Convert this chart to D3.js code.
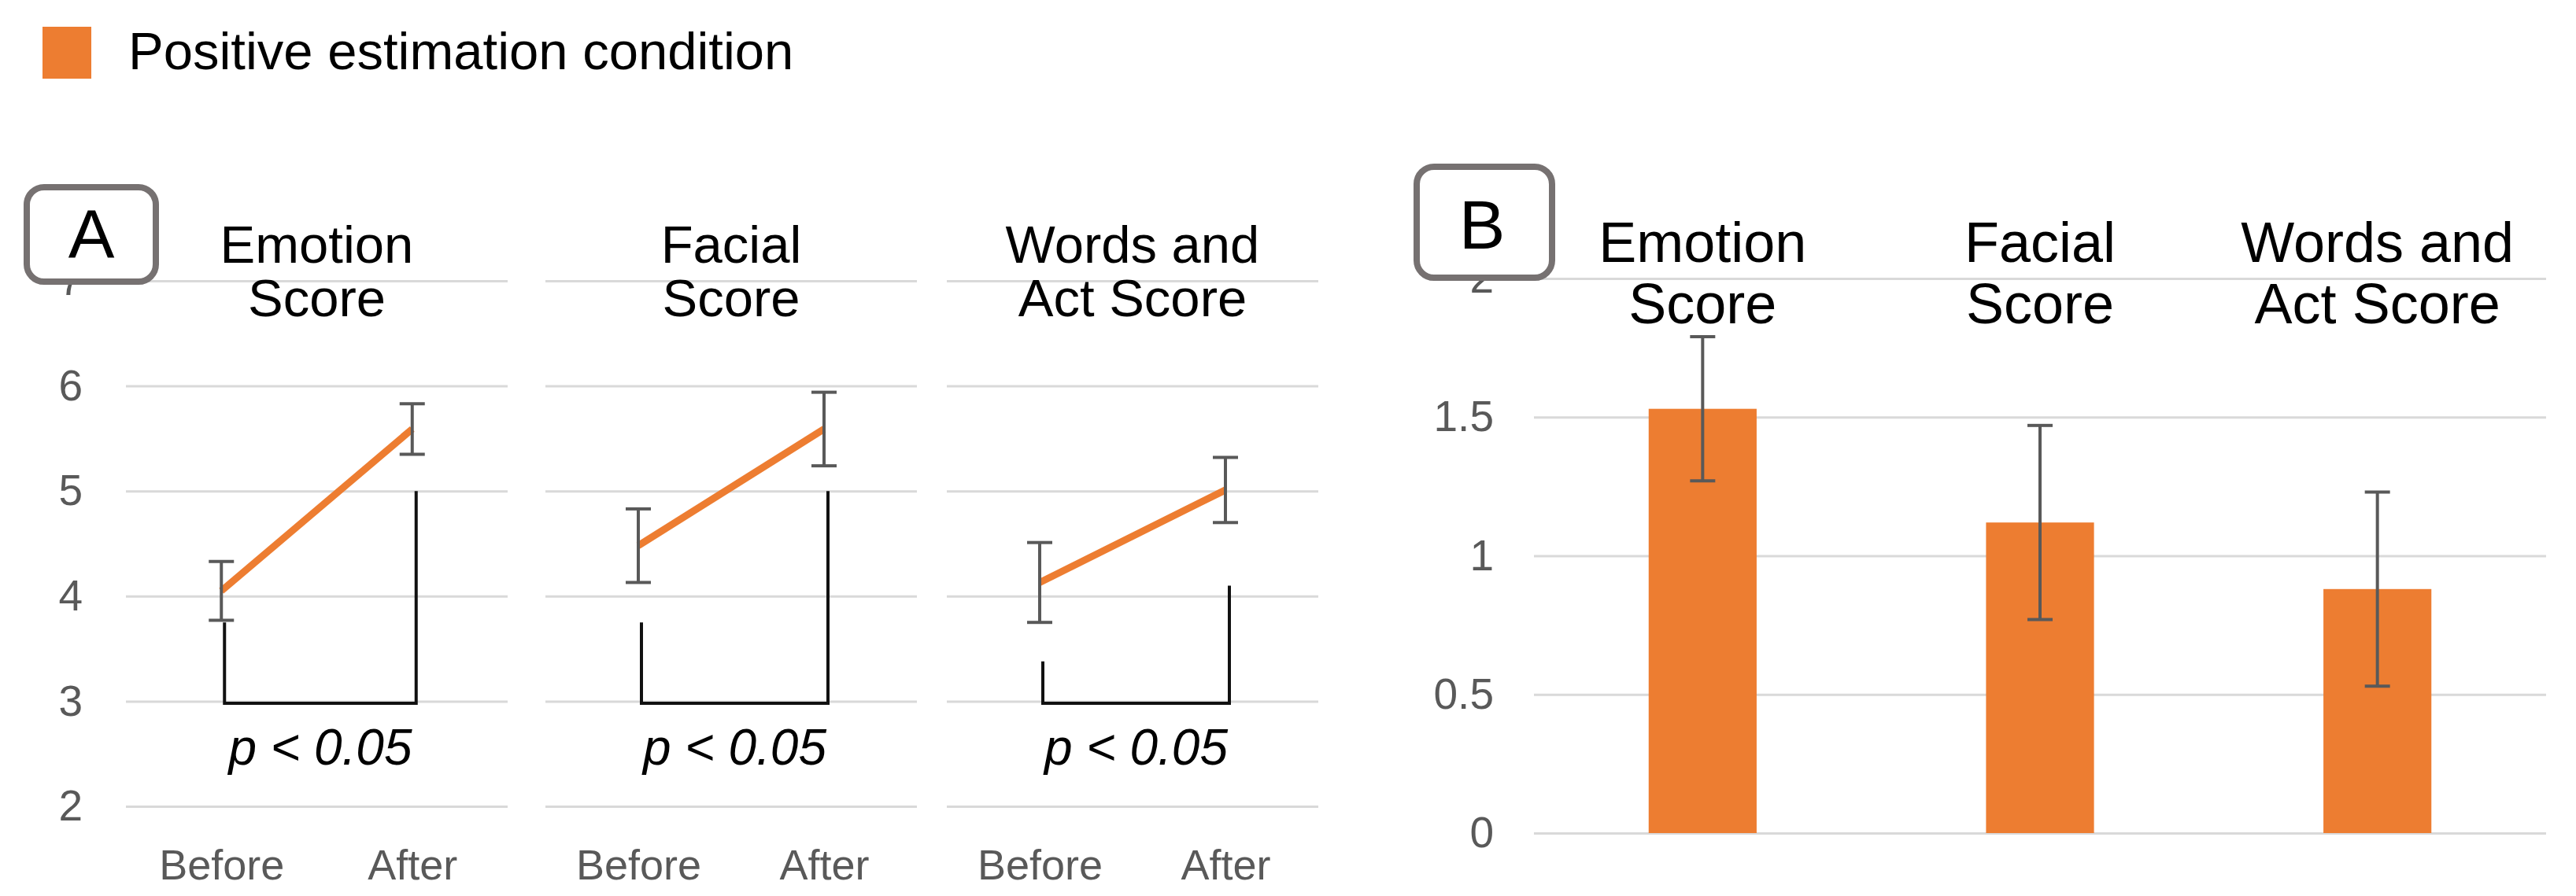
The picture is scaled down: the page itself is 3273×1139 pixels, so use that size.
<!DOCTYPE html>
<html>
<head>
<meta charset="utf-8">
<script src="https://cdnjs.cloudflare.com/ajax/libs/d3/7.8.5/d3.min.js"></script>
<style>
  body { margin: 0; background: #fff; }
  svg { display: block; font-family: "Liberation Sans", Arial, sans-serif; }
  .grid line { stroke: #d9d9d9; stroke-width: 3; }
  .grid .domain { display: none; }
  .grid text { fill: #595959; }
  .cat .domain, .cat line { display: none; }
  .cat text { fill: #595959; }
</style>
</head>
<body>
<script>
// panel A: mean scores before / after
var conditions = ["Before", "After"];
var scoreTitles = [["Emotion", "Score"], ["Facial", "Score"], ["Words and", "Act Score"]];
var beforeMeans = [4.05, 4.48, 4.13];
var beforeErrors = [0.28, 0.35, 0.38];
var afterMeans = [5.59, 5.59, 5.01];
var afterErrors = [0.24, 0.35, 0.31];
var bracketLeftTop = [3.75, 3.75, 3.38];
var bracketRightTop = [5.0, 5.0, 4.1];
var bracketBottom = 2.98;
var pText = "p < 0.05";
var scoreTicks = [2, 3, 4, 5, 6, 7];

// panel B: change in score
var changeMeans = [1.53, 1.12, 0.88];
var changeErrors = [0.26, 0.35, 0.35];
var changeTicks = [0, 0.5, 1, 1.5, 2];

var legendLabel = "Positive estimation condition";

var width = 3273;
var height = 1139;
var orange = "#ed7d31";
var errColor = "#595959";
var boxColor = "#767171";
var capHalf = 16;

var svg = d3
  .select("body")
  .append("svg")
  .attr("width", width)
  .attr("height", height);

// legend
svg
  .append("rect")
  .attr("x", 54)
  .attr("y", 34)
  .attr("width", 62)
  .attr("height", 66)
  .attr("fill", orange);
svg
  .append("text")
  .attr("x", 163)
  .attr("y", 88)
  .attr("font-size", 67)
  .text(legendLabel);

// ---------- panel A ----------
var yA = d3.scaleLinear().domain([2, 7]).range([1025, 357]);
var plotRanges = [[160, 645], [693, 1165], [1203, 1675]];

scoreTitles.forEach(function(title, i) {
  var x0 = plotRanges[i][0];
  var x1 = plotRanges[i][1];
  var x = d3.scalePoint().domain(conditions).range([x0, x1]).padding(0.5);

  var grid = svg
    .append("g")
    .attr("class", "grid")
    .attr("transform", "translate(" + x0 + ",0)")
    .call(
      d3
        .axisLeft(yA)
        .tickValues(scoreTicks)
        .tickSize(-(x1 - x0))
        .tickPadding(55)
        .tickFormat(i === 0 ? d3.format("d") : function() { return ""; })
    );
  grid.attr("font-size", 55).attr("font-family", null);

  var cat = svg
    .append("g")
    .attr("class", "cat")
    .attr("transform", "translate(0," + yA(2) + ")")
    .call(d3.axisBottom(x).tickSize(0).tickPadding(55));
  cat.attr("font-size", 54).attr("font-family", null);

  // title
  var t = svg
    .append("text")
    .attr("text-anchor", "middle")
    .attr("font-size", 67)
    .attr("x", (x0 + x1) / 2);
  t.append("tspan").attr("x", (x0 + x1) / 2).attr("y", yA(7) - 23).text(title[0]);
  t.append("tspan").attr("x", (x0 + x1) / 2).attr("y", yA(7) + 45).text(title[1]);

  // significance bracket
  var bx0 = x("Before") + 4;
  var bx1 = x("After") + 5;
  svg
    .append("path")
    .attr(
      "d",
      d3.line()([
        [bx0, yA(bracketLeftTop[i])],
        [bx0, yA(bracketBottom)],
        [bx1, yA(bracketBottom)],
        [bx1, yA(bracketRightTop[i])]
      ])
    )
    .attr("fill", "none")
    .attr("stroke", "#111")
    .attr("stroke-width", 4);

  svg
    .append("text")
    .attr("x", (bx0 + bx1) / 2)
    .attr("y", yA(2.4))
    .attr("text-anchor", "middle")
    .attr("font-size", 64)
    .attr("font-style", "italic")
    .text(pText);

  // mean line
  var pts = [
    { c: "Before", m: beforeMeans[i], e: beforeErrors[i] },
    { c: "After", m: afterMeans[i], e: afterErrors[i] }
  ];
  svg
    .append("path")
    .datum(pts)
    .attr(
      "d",
      d3
        .line()
        .x(function(d) { return x(d.c); })
        .y(function(d) { return yA(d.m); })
    )
    .attr("fill", "none")
    .attr("stroke", orange)
    .attr("stroke-width", 9);

  drawErrors(
    pts.map(function(d) {
      return { cx: x(d.c), top: yA(d.m + d.e), bottom: yA(d.m - d.e) };
    })
  );
});

svg
  .append("rect")
  .attr("x", 34)
  .attr("y", 238)
  .attr("width", 164)
  .attr("height", 120)
  .attr("rx", 22)
  .attr("fill", "#fff")
  .attr("stroke", boxColor)
  .attr("stroke-width", 8);
svg
  .append("text")
  .attr("x", 116)
  .attr("y", 328)
  .attr("text-anchor", "middle")
  .attr("font-size", 88)
  .text("A");

// ---------- panel B ----------
var yB = d3.scaleLinear().domain([0, 2]).range([1059, 354]);
var xB = d3
  .scaleBand()
  .domain(d3.range(changeMeans.length))
  .range([1949, 3235])
  .paddingInner(0.68)
  .paddingOuter(0.34);

var gridB = svg
  .append("g")
  .attr("class", "grid")
  .attr("transform", "translate(1949,0)")
  .call(
    d3
      .axisLeft(yB)
      .tickValues(changeTicks)
      .tickSize(-(3235 - 1949))
      .tickPadding(51)
      .tickFormat(d3.format("~g"))
  );
gridB.attr("font-size", 55).attr("font-family", null);

svg
  .selectAll(".bar")
  .data(changeMeans)
  .enter()
  .append("rect")
  .attr("class", "bar")
  .attr("x", function(d, i) { return xB(i); })
  .attr("width", xB.bandwidth())
  .attr("y", function(d) { return yB(d); })
  .attr("height", function(d) { return yB(0) - yB(d); })
  .attr("fill", orange);

drawErrors(
  changeMeans.map(function(d, i) {
    return {
      cx: xB(i) + xB.bandwidth() / 2,
      top: yB(d + changeErrors[i]),
      bottom: yB(d - changeErrors[i])
    };
  })
);

scoreTitles.forEach(function(title, i) {
  var cx = xB(i) + xB.bandwidth() / 2;
  var t = svg.append("text").attr("text-anchor", "middle").attr("font-size", 72);
  t.append("tspan").attr("x", cx).attr("y", 333).text(title[0]);
  t.append("tspan").attr("x", cx).attr("y", 411).text(title[1]);
});

svg
  .append("rect")
  .attr("x", 1800)
  .attr("y", 212)
  .attr("width", 172)
  .attr("height", 141)
  .attr("rx", 22)
  .attr("fill", "#fff")
  .attr("stroke", boxColor)
  .attr("stroke-width", 8);
svg
  .append("text")
  .attr("x", 1883)
  .attr("y", 316)
  .attr("text-anchor", "middle")
  .attr("font-size", 88)
  .text("B");

function drawErrors(list) {
  var g = svg.append("g").attr("stroke", errColor).attr("stroke-width", 4);
  list.forEach(function(e) {
    g.append("line").attr("x1", e.cx).attr("x2", e.cx).attr("y1", e.top).attr("y2", e.bottom);
    g.append("line").attr("x1", e.cx - capHalf).attr("x2", e.cx + capHalf).attr("y1", e.top).attr("y2", e.top);
    g.append("line").attr("x1", e.cx - capHalf).attr("x2", e.cx + capHalf).attr("y1", e.bottom).attr("y2", e.bottom);
  });
}
</script>
</body>
</html>
